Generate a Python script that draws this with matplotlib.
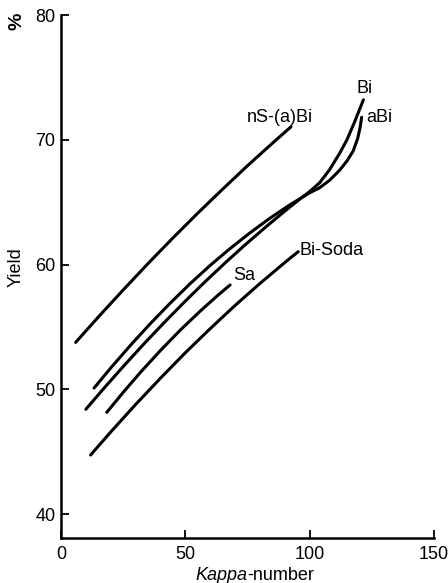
import matplotlib
matplotlib.use('Agg')
import matplotlib.pyplot as plt

# yield vs kappa number
ns_x = [5.9, 15, 25, 35, 45, 55, 65, 75, 85, 92.5]
ns_y = [53.76, 55.79, 57.96, 60.08, 62.13, 64.12, 66.04, 67.92, 69.72, 71.04]

bi_x = [10, 18, 26, 34, 42, 50, 58, 66, 74, 82, 90, 96, 100, 104, 108, 112, 115, 118, 120, 121.6]
bi_y = [48.4, 50.25, 52.04, 53.78, 55.45, 57.07, 58.63, 60.13, 61.57, 62.95, 64.28, 65.24, 65.85,
        66.55, 67.6, 68.9, 70.0, 71.4, 72.4, 73.2]

abi_x = [13.3, 20, 28, 36, 44, 52, 60, 68, 76, 84, 92, 100, 104, 108, 112, 115, 117.5, 119.3, 120.3, 120.9]
abi_y = [50.1, 51.71, 53.54, 55.28, 56.92, 58.48, 59.93, 61.28, 62.54, 63.71, 64.78, 65.75,
         66.15, 66.75, 67.55, 68.3, 69.1, 70.1, 71.0, 71.8]

sa_x = [18.4, 25, 32, 40, 48, 56, 63, 68]
sa_y = [48.15, 49.75, 51.37, 53.11, 54.75, 56.27, 57.52, 58.36]

soda_x = [11.9, 20, 30, 40, 50, 60, 70, 80, 90, 95.4]
soda_y = [44.73, 46.58, 48.78, 50.89, 52.93, 54.86, 56.72, 58.48, 60.16, 61.03]

labels = ['nS-(a)Bi', 'Bi', 'aBi', 'Sa', 'Bi-Soda']
label_pos = [(74.7, 71.8), (118.9, 74.1), (122.9, 71.8), (69.3, 59.1), (96.1, 61.1)]

plt.rcParams['font.family'] = ['Liberation Sans', 'DejaVu Sans']
plt.rcParams['font.size'] = 13

fig = plt.figure(figsize=(4.48, 5.83), dpi=100)
ax = fig.add_axes([61/448, 1 - 538/583, 373/448, 523/583])

for xs, ys in [(ns_x, ns_y), (bi_x, bi_y), (abi_x, abi_y), (sa_x, sa_y), (soda_x, soda_y)]:
    ax.plot(xs, ys, color='black', lw=2.2, solid_capstyle='round', solid_joinstyle='round')

for lab, (x, y) in zip(labels, label_pos):
    ax.text(x, y, lab, ha='left', va='center', fontsize=13)

ax.set_xlim(0, 150)
ax.set_ylim(38.08, 80)
ax.set_xticks([0, 50, 100, 150])
ax.set_yticks([40, 50, 60, 70, 80])
ax.spines['top'].set_visible(False)
ax.spines['right'].set_visible(False)
for s in ['left', 'bottom']:
    ax.spines[s].set_linewidth(1.8)
ax.tick_params(direction='in', length=6, width=1.3, labelsize=13)
ax.tick_params(axis='y', pad=4)
ax.tick_params(axis='x', pad=6)

ax.text(0.5, -0.072, 'Kappa', transform=ax.transAxes, ha='right', va='center',
        fontsize=13, style='italic')
ax.text(0.5, -0.072, '-number', transform=ax.transAxes, ha='left', va='center', fontsize=13)
ax.set_ylabel('Yield', fontsize=13)
ax.yaxis.set_label_coords(-0.098, 0.518)
ax.text(-0.118, 0.987, '%', transform=ax.transAxes, rotation=90, ha='center', va='center',
        fontsize=14, fontweight='bold')

fig.savefig('out.png', dpi=100)
